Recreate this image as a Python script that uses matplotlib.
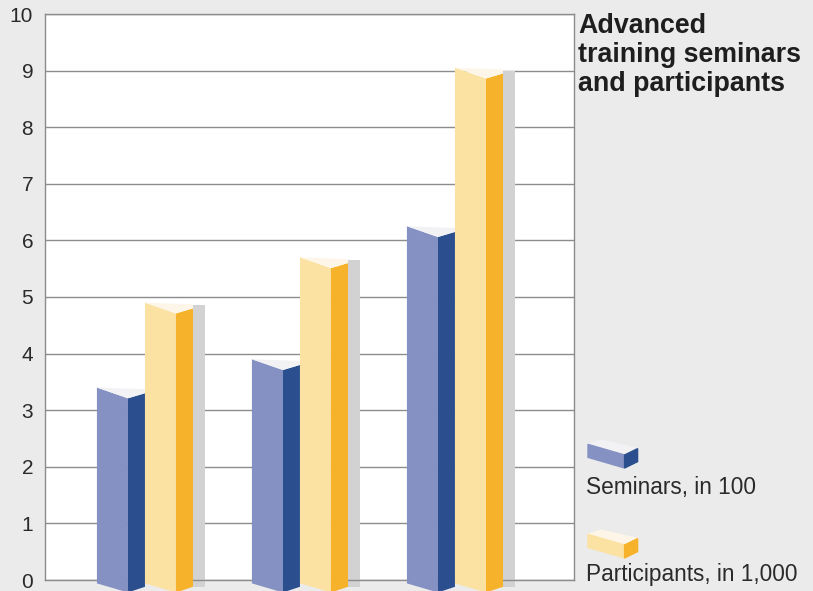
# plot.py
# 进修研讨会与参与人数 柱状图（仿立体柱）
import matplotlib.pyplot as plt
import numpy as np

###########数据###########
seminars = [3.4, 3.9, 6.25]        # 研讨会，单位 100
participants = [4.9, 5.7, 9.05]    # 参与人数，单位 1,000
y_ticks = list(range(0, 11))
title_text = 'Advanced\ntraining seminars\nand participants'
legend_labels = ['Seminars, in 100', 'Participants, in 1,000']

###########样式###########
BG = '#ebebeb'
BLUE = ('#8491c2', '#2b4f8e', '#f2f2f5')      # 正面、侧面、顶面
YELLOW = ('#fbe2a2', '#f6b22a', '#fdf6e8')
SHADOW = '#d2d2d2'
FRONT_W = 0.20     # 正面宽度
SIDE_W = 0.11      # 侧面宽度


def drawPrism(ax, left, value, colors, shadow=False):
    # 画一根立体柱：正面 + 侧面 + 顶面，底部略微伸出 0 线
    xf = left + FRONT_W
    xr = xf + SIDE_W
    front, side, top = colors
    bot_l, bot_f, bot_r = -0.06, -0.22, -0.12
    if shadow:
        ax.fill([xr, xr + 0.075, xr + 0.075, xr], [value - 0.05, value - 0.05, bot_r, bot_r],
                color=SHADOW, lw=0, zorder=2, clip_on=False)
    ax.fill([left, xf, xf, left], [value, value - 0.19, bot_f, bot_l],
            color=front, lw=0, zorder=3, clip_on=False)
    ax.fill([xf, xr, xr, xf], [value - 0.19, value - 0.10, bot_r, bot_f],
            color=side, lw=0, zorder=3, clip_on=False)
    ax.fill([left, xr, xr, xf], [value, value - 0.03, value - 0.10, value - 0.19],
            color=top, lw=0, zorder=4, clip_on=False)


def drawIcon(fig, x, y, colors):
    # 图例中的小立体块（图形坐标）
    front, side, top = colors
    w, d, h, s = 0.045, 0.016, 0.022, 0.018
    fig.patches.append(plt.Polygon([[x, y + h + s], [x + w, y + h], [x + w + d, y + h + s * 0.6],
                                    [x + d, y + h + s * 1.4]], closed=True, color=top,
                                   transform=fig.transFigure, figure=fig))
    fig.patches.append(plt.Polygon([[x, y + h + s], [x + w, y + h], [x + w, y], [x, y + s]],
                                   closed=True, color=front, transform=fig.transFigure, figure=fig))
    fig.patches.append(plt.Polygon([[x + w, y + h], [x + w + d, y + h + s * 0.6],
                                    [x + w + d, y + s * 0.6], [x + w, y]],
                                   closed=True, color=side, transform=fig.transFigure, figure=fig))


###########绘图###########
plt.rcParams['font.family'] = ['Liberation Sans', 'DejaVu Sans']
fig = plt.figure(figsize=(8.13, 5.91), dpi=100, facecolor=BG)
ax = fig.add_axes([45 / 813, 11 / 591, 529 / 813, 566 / 591])
ax.set_facecolor('white')

groups = np.arange(len(seminars))
for g, s_val, p_val in zip(groups, seminars, participants):
    drawPrism(ax, g - FRONT_W - SIDE_W, s_val, BLUE)
    drawPrism(ax, g, p_val, YELLOW, shadow=True)

ax.set_xlim(-0.645, 2.768)
ax.set_ylim(0, 10)
ax.set_yticks(y_ticks)
ax.set_xticks([])
ax.grid(axis='y', color='#8c8c8c', lw=1, zorder=1)
ax.tick_params(axis='y', length=0, pad=8.5, labelsize=15, labelcolor='#2a2a2a')
for side in ['top', 'right', 'left', 'bottom']:
    ax.spines[side].set_color('#8c8c8c')
    ax.spines[side].set_linewidth(1)

# 标题
fig.text(578 / 813, 1 - 13 / 591, title_text, fontsize=19.3, fontweight='bold',
         color='#1e1e1e', va='top', ha='left', linespacing=1.14)

# 图例
drawIcon(fig, 588 / 813, 1 - 468 / 591, BLUE)
fig.text(586 / 813, 1 - 494 / 591, legend_labels[0], fontsize=16.3, color='#2a2a2a', va='baseline')
drawIcon(fig, 588 / 813, 1 - 558 / 591, YELLOW)
fig.text(586 / 813, 1 - 581 / 591, legend_labels[1], fontsize=16.3, color='#2a2a2a', va='baseline')

fig.savefig('out.png', dpi=100, facecolor=BG)
